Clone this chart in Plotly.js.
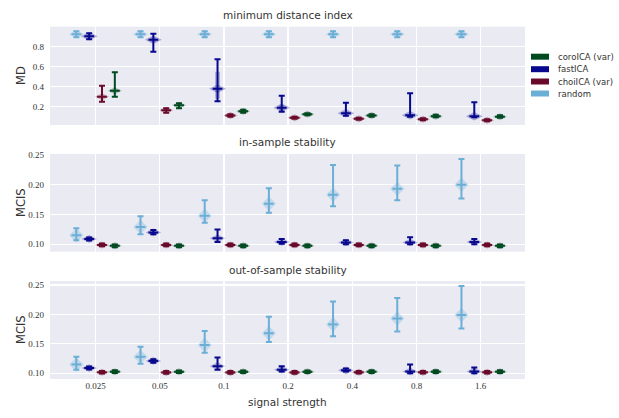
<!DOCTYPE html>
<html>
<head>
<meta charset="utf-8">
<script src="https://cdn.plot.ly/plotly-3.0.1.min.js"></script>
<style>html,body{margin:0;padding:0;background:#fff;}#chart{width:619px;height:418px;}</style>
</head>
<body>
<div id="chart"></div>
<script>
// ---- data ----
const strengths = ['0.025', '0.05', '0.1', '0.2', '0.4', '0.8', '1.6'];
const methods = ['random', 'fastICA', 'choiICA (var)', 'coroICA (var)'];
const legendOrder = ['coroICA (var)', 'fastICA', 'choiICA (var)', 'random'];

// each entry: [min, median, max]
// minimum distance index (MD)
const md_random = [[0.895, 0.925, 0.955], [0.895, 0.925, 0.955], [0.895, 0.925, 0.955], [0.895, 0.925, 0.955], [0.895, 0.925, 0.955], [0.895, 0.925, 0.955], [0.895, 0.925, 0.955]];
const md_fast   = [[0.875, 0.905, 0.935], [0.75, 0.87, 0.93], [0.255, 0.38, 0.675], [0.15, 0.19, 0.31], [0.11, 0.135, 0.24], [0.10, 0.115, 0.335], [0.095, 0.105, 0.245]];
const md_choi   = [[0.25, 0.30, 0.41], [0.14, 0.165, 0.185], [0.10, 0.113, 0.125], [0.08, 0.09, 0.10], [0.07, 0.08, 0.09], [0.065, 0.075, 0.085], [0.055, 0.065, 0.075]];
const md_coro   = [[0.30, 0.36, 0.545], [0.185, 0.215, 0.235], [0.14, 0.155, 0.17], [0.115, 0.125, 0.135], [0.10, 0.113, 0.125], [0.095, 0.105, 0.12], [0.09, 0.10, 0.115]];
// body extent of the fastICA MD violins: [low, high]
const md_fast_body = [[0.89, 0.92], [0.85, 0.89], [0.28, 0.55], [0.16, 0.22], [0.12, 0.15], [0.105, 0.125], [0.10, 0.115]];

// in-sample stability (MCIS)
const in_random = [[0.107, 0.115, 0.127], [0.117, 0.129, 0.147], [0.136, 0.148, 0.174], [0.153, 0.168, 0.194], [0.164, 0.183, 0.233], [0.174, 0.193, 0.232], [0.177, 0.200, 0.243]];
const in_fast   = [[0.1065, 0.109, 0.1115], [0.117, 0.120, 0.124], [0.104, 0.110, 0.125], [0.101, 0.104, 0.109], [0.100, 0.103, 0.107], [0.100, 0.103, 0.112], [0.100, 0.104, 0.109]];
const in_choi   = [[0.0968, 0.099, 0.1012], [0.0968, 0.099, 0.1012], [0.0968, 0.099, 0.1012], [0.0968, 0.099, 0.1012], [0.0968, 0.099, 0.1012], [0.0968, 0.099, 0.1012], [0.0968, 0.099, 0.1012]];
const in_coro   = [[0.0952, 0.0975, 0.0995], [0.0952, 0.0975, 0.0995], [0.0952, 0.0975, 0.0995], [0.0952, 0.0975, 0.0995], [0.0952, 0.0975, 0.0995], [0.0952, 0.0975, 0.0995], [0.0952, 0.0975, 0.0995]];

// out-of-sample stability (MCIS)
const out_random = [[0.106, 0.115, 0.128], [0.116, 0.128, 0.145], [0.135, 0.148, 0.172], [0.153, 0.168, 0.196], [0.163, 0.183, 0.222], [0.171, 0.193, 0.228], [0.176, 0.199, 0.248]];
const out_fast   = [[0.1065, 0.109, 0.1115], [0.118, 0.121, 0.124], [0.106, 0.112, 0.127], [0.103, 0.106, 0.112], [0.103, 0.105, 0.108], [0.100, 0.103, 0.115], [0.100, 0.103, 0.110]];
const out_choi   = [[0.0995, 0.1017, 0.104], [0.0993, 0.1015, 0.1037], [0.0993, 0.1015, 0.1037], [0.0993, 0.1015, 0.1037], [0.0995, 0.1017, 0.104], [0.0995, 0.1017, 0.104], [0.0995, 0.1017, 0.104]];
const out_coro   = [[0.1005, 0.1027, 0.105], [0.1003, 0.1025, 0.1047], [0.1003, 0.1025, 0.1047], [0.1003, 0.1025, 0.1047], [0.1005, 0.1027, 0.105], [0.1005, 0.1027, 0.105], [0.1005, 0.1027, 0.105]];

const md_ticks = [0.2, 0.4, 0.6, 0.8];
const mcis_ticks = [0.10, 0.15, 0.20, 0.25];
const mcis_ticktext = ['0.10', '0.15', '0.20', '0.25'];

// ---- styling ----
const colors = {
  'random': '#6baed6',
  'fastICA': '#08088e',
  'choiICA (var)': '#6a0a2a',
  'coroICA (var)': '#004a20'
};
const offsets = {'random': -0.3, 'fastICA': -0.1, 'choiICA (var)': 0.1, 'coroICA (var)': 0.3};
const bodyStyle = [
  {'random': ['diamond-wide', 11], 'fastICA': ['diamond-wide', 12], 'choiICA (var)': ['diamond-wide', 10], 'coroICA (var)': ['diamond-wide', 10]},
  {'random': ['diamond', 11], 'fastICA': ['diamond-wide', 11], 'choiICA (var)': ['diamond-wide', 10], 'coroICA (var)': ['diamond-wide', 10]},
  {'random': ['diamond', 11], 'fastICA': ['diamond-wide', 11], 'choiICA (var)': ['diamond-wide', 10], 'coroICA (var)': ['diamond-wide', 10]}
];
const SANS = 'DejaVu Sans, sans-serif';
const SERIF = 'Liberation Serif, DejaVu Serif, serif';
const TXT = '#333333';

const panels = [
  {ax: '', data: {'random': md_random, 'fastICA': md_fast, 'choiICA (var)': md_choi, 'coroICA (var)': md_coro}},
  {ax: '2', data: {'random': in_random, 'fastICA': in_fast, 'choiICA (var)': in_choi, 'coroICA (var)': in_coro}},
  {ax: '3', data: {'random': out_random, 'fastICA': out_fast, 'choiICA (var)': out_choi, 'coroICA (var)': out_coro}}
];

const traces = [];
panels.forEach((p, pi) => {
  methods.forEach(m => {
    const d = p.data[m];
    const xs = strengths.map((_, i) => i + offsets[m]);
    const med = d.map(v => v[1]);
    const bs = bodyStyle[pi][m];
    // translucent violin body
    if (pi === 0 && m === 'fastICA') {
      traces.push({
        type: 'scatter', mode: 'markers', x: xs, y: md_fast_body.map(b => (b[0] + b[1]) / 2),
        xaxis: 'x', yaxis: 'y', hoverinfo: 'skip', showlegend: false,
        marker: {size: 1, color: 'rgba(0,0,0,0)'},
        error_y: {type: 'data', symmetric: true,
                  array: md_fast_body.map(b => (b[1] - b[0]) / 2),
                  color: 'rgba(8,8,142,0.25)', thickness: 5, width: 0}
      });
    }
    traces.push({
      type: 'scatter', mode: 'markers', x: xs, y: med,
      xaxis: 'x' + p.ax, yaxis: 'y' + p.ax, hoverinfo: 'skip', showlegend: false,
      marker: {symbol: bs[0], size: bs[1], color: colors[m], opacity: 0.3, line: {width: 0}}
    });
    // extrema bars and median
    traces.push({
      type: 'scatter', mode: 'markers', x: xs, y: med,
      xaxis: 'x' + p.ax, yaxis: 'y' + p.ax, hoverinfo: 'skip', showlegend: false,
      marker: {symbol: 'line-ew', size: 7, color: colors[m], line: {width: 2, color: colors[m]}},
      error_y: {type: 'data', symmetric: false,
                array: d.map(v => v[2] - v[1]), arrayminus: d.map(v => v[1] - v[0]),
                color: colors[m], thickness: 2, width: 3}
    });
  });
});

const W = 619, H = 418;
const px = (x) => x / W;
const py = (y) => 1 - y / H;

const xBase = {
  range: [-0.71, 6.69], tickvals: strengths.map((_, i) => i), ticktext: strengths,
  showgrid: true, gridcolor: '#ffffff', gridwidth: 1.3, zeroline: false, showline: false,
  ticks: '', tickfont: {family: SERIF, size: 9, color: TXT}, domain: [px(50), px(525)]
};
const yBase = {
  showgrid: true, gridcolor: '#ffffff', gridwidth: 1.3, zeroline: false, showline: false,
  ticks: '', ticklabelstandoff: 5, tickfont: {family: SERIF, size: 9, color: TXT}
};

const layout = {
  width: W, height: H, margin: {l: 0, r: 0, t: 0, b: 0},
  paper_bgcolor: '#ffffff', plot_bgcolor: '#eaeaf2', showlegend: false,
  xaxis: Object.assign({}, xBase, {anchor: 'y', showticklabels: false}),
  xaxis2: Object.assign({}, xBase, {anchor: 'y2', showticklabels: false}),
  xaxis3: Object.assign({}, xBase, {anchor: 'y3', showticklabels: true}),
  yaxis: Object.assign({}, yBase, {anchor: 'x', domain: [py(125), py(26.7)], range: [0.017, 1.0],
                                    tickvals: md_ticks, ticktext: md_ticks.map(String)}),
  yaxis2: Object.assign({}, yBase, {anchor: 'x2', domain: [py(251.7), py(154)], range: [0.0876, 0.2515],
                                    tickvals: mcis_ticks, ticktext: mcis_ticktext}),
  yaxis3: Object.assign({}, yBase, {anchor: 'x3', domain: [py(379), py(281)], range: [0.0903, 0.2567],
                                    tickvals: mcis_ticks, ticktext: mcis_ticktext}),
  annotations: [],
  shapes: []
};

const ann = (text, x, y, size, extra) => Object.assign({
  text: text, x: px(x), y: py(y), xref: 'paper', yref: 'paper', showarrow: false,
  xanchor: 'center', yanchor: 'middle', font: {family: SANS, size: size, color: TXT}
}, extra || {});

layout.annotations.push(ann('minimum distance index', 287.5, 15, 10.5));
layout.annotations.push(ann('in-sample stability', 287.5, 142.5, 10.5));
layout.annotations.push(ann('out-of-sample stability', 287.5, 270, 10.5));
layout.annotations.push(ann('signal strength', 287.5, 401.5, 10.5));
layout.annotations.push(ann('MD', 21, 76, 11.5, {textangle: -90}));
layout.annotations.push(ann('MCIS', 21, 203, 11.5, {textangle: -90}));
layout.annotations.push(ann('MCIS', 21, 330, 11.5, {textangle: -90}));

// legend
const legY = [56.7, 69.2, 81.5, 93.5];
legendOrder.forEach((m, i) => {
  layout.shapes.push({type: 'rect', xref: 'paper', yref: 'paper',
    x0: px(531), x1: px(549), y0: py(legY[i] + 3), y1: py(legY[i] - 3),
    fillcolor: colors[m], line: {width: 0}});
  layout.annotations.push(ann(m, 555.5, legY[i], 8.5, {xanchor: 'left'}));
});

Plotly.newPlot('chart', traces, layout, {staticPlot: true, displayModeBar: false});
</script>
</body>
</html>
